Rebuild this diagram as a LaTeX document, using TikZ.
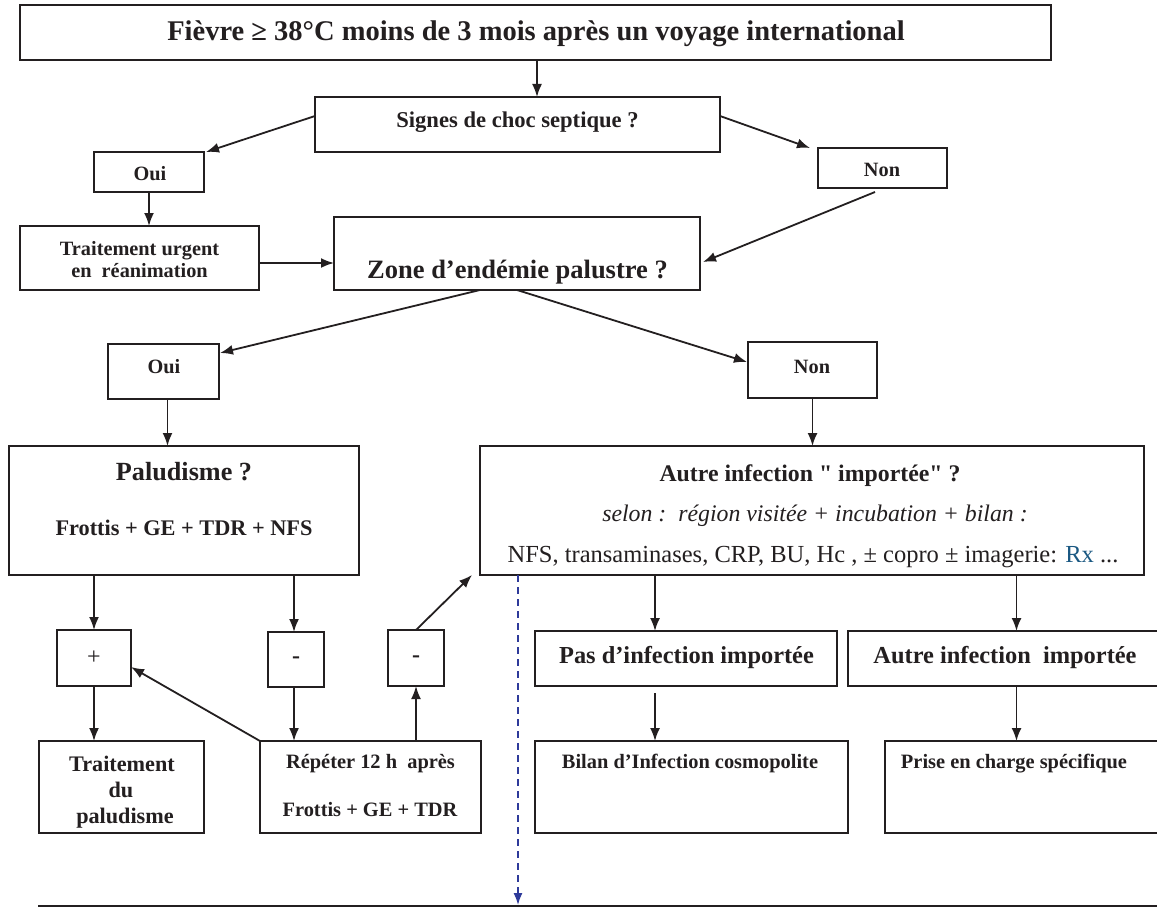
\documentclass[tikz,border=0pt]{standalone}
\usepackage{fontspec}
\setmainfont{Liberation Serif}
\newfontfamily\rawserif{Liberation Serif}
\usetikzlibrary{arrows.meta}
\definecolor{ink}{RGB}{35,31,32}
\definecolor{dashblue}{RGB}{46,58,154}
\definecolor{rxblue}{RGB}{26,88,130}
\newcommand\myfs[1]{\fontsize{#1}{#1}\selectfont}
\newcommand\bx[5]{\node[box,minimum width={(#4-#2)*1pt},minimum height={(#5-#3)*1pt}] (#1) at ({(#2+#4)/2},{(#3+#5)/2}) {};}
\begin{document}
\begin{tikzpicture}[x=1pt,y=-1pt,
  box/.style={draw=ink,line width=1.8pt,rectangle,inner sep=0pt,outer sep=0pt},
  arr/.style={draw=ink,line width=1.8pt,-{Latex[length=13pt,width=10pt]}},
  txt/.style={anchor=base,inner sep=0pt,text=ink},
  bf/.style={txt,font={\bfseries\myfs{#1}}},
  rm/.style={txt,font={\myfs{#1}}},
  it/.style={txt,font={\itshape\myfs{#1}}}]
\useasboundingbox[fill=white] (0,0) rectangle (1157,907);
% boxes
\bx{title}{20}{5}{1051}{60}
\bx{signes}{315}{97}{720}{152}
\bx{oui1}{94}{152}{204}{192}
\bx{non1}{818}{148}{947}{188}
\bx{trait}{20}{226}{259}{290}
\bx{zone}{334}{217}{700}{290}
\bx{oui2}{108}{344}{219}{399}
\bx{non2}{748}{342}{877}{398}
\bx{palu}{9}{446}{359}{575}
\bx{autre}{480}{446}{1144}{575}
\bx{plus}{57}{630}{131}{686}
\bx{minusa}{268}{632}{324}{687}
\bx{minusb}{388}{630}{444}{686}
\bx{traitpal}{39}{741}{204}{833}
\bx{repeter}{260}{741}{481}{833}
\bx{pas}{535}{631}{837}{686}
\bx{autreimp}{848}{631}{1175}{686}
\bx{bilan}{535}{741}{848}{833}
\bx{prise}{885}{741}{1175}{833}
% texts
\node[bf=28.5] (ttitle) at (536,41) {Fièvre ≥ 38°C moins de 3 mois après un voyage international};
\node[bf=22.6] (tsignes) at (517.5,127) {Signes de choc septique ?};
\node[bf=20.3] (toui1) at (150,180) {Oui};
\node[bf=20.3] (tnon1) at (882,176) {Non};
\node[bf=20.3] (ttrait1) at (139.5,255) {Traitement urgent};
\node[bf=20.3] (ttrait2) at (139.5,277) {en\ \ réanimation};
\node[bf=26.5] (tzone) at (517.5,278) {Zone d’endémie palustre ?};
\node[bf=20.3] (toui2) at (164,373) {Oui};
\node[bf=20.3] (tnon2) at (812,373) {Non};
\node[bf=26.2] (tpalu1) at (184,480) {Paludisme ?};
\node[bf=22.3] (tpalu2) at (184,535) {Frottis + GE + TDR + NFS};
\node[bf=23.8] (tautre1) at (810,481) {Autre infection {\rawserif\bfseries"} importée{\rawserif\bfseries"} ?};
\node[it=23.8] (tautre2) at (815,521) {selon :\ \ région visitée + incubation + bilan :};
\node[rm=24.5] (tautre3) at (813,562) {NFS, transaminases, CRP, BU, Hc , ± copro ± imagerie: \textcolor{rxblue}{Rx} ...};
\node[rm=24] (tplus) at (94,664) {+};
\node[bf=24] (tminusa) at (296,663) {-};
\node[bf=24] (tminusb) at (416,662) {-};
\node[bf=22.2] (ttp1) at (122,771) {Traitement};
\node[bf=22.2] (ttp2) at (121,797) {du};
\node[bf=22.2] (ttp3) at (125,823) {paludisme};
\node[bf=20.4] (trep1) at (370.5,768) {Répéter 12 h\ \ après};
\node[bf=20.4] (trep2) at (370,816) {Frottis + GE + TDR};
\node[bf=24.4] (tpas) at (686.5,663) {Pas d’infection importée};
\node[bf=24.4] (tautreimp) at (1005,663) {Autre infection\ \ importée};
\node[bf=20.4] (tbilan) at (690,768) {Bilan d’Infection cosmopolite};
\node[bf=20.4] (tprise) at (1014,768) {Prise en charge spécifique};
% helper coordinates
\coordinate (pasin) at ([xshift=-31pt]pas.north);
\coordinate (pasout) at ([xshift=-31pt,yshift=-7pt]pas.south);
\coordinate (aiin) at ([xshift=5pt]autreimp.north);
\coordinate (dashend) at (518,905);
\coordinate (hla) at (38,906);
\coordinate (hlb) at (1165,906);
\coordinate (nonout) at ([xshift=-7.5pt,yshift=-4pt]non1.south);
% connectors
\draw[arr] ([xshift=1.5pt]title.south) -- ([xshift=1.5pt]title.south |- signes.north);
\draw[arr] ([yshift=8.5pt]signes.west) -- ([xshift=2pt]oui1.north east);
\draw[arr] ([yshift=8.5pt]signes.east) -- ([xshift=-8pt]non1.north west);
\draw[arr] (oui1.south) -- (oui1.south |- trait.north);
\draw[arr] ([yshift=-5pt]trait.east) -- ([yshift=-5pt]trait.east -| zone.west);
\draw[arr] (nonout) -- ([xshift=3pt,yshift=-8.5pt]zone.east);
\draw[arr] ([xshift=-37pt]zone.south) -- ([xshift=1pt,yshift=-9pt]oui2.north east);
\draw[arr] (zone.south) -- ([xshift=-1pt,yshift=-20pt]non2.north west);
\draw[arr] ([xshift=4pt]oui2.south) -- ([xshift=4pt]oui2.south |- palu.north);
\draw[arr] (non2.south) -- (non2.south |- autre.north);
\draw[arr] (plus.north |- palu.south) -- (plus.north);
\draw[arr] ([xshift=-2pt]minusa.north |- palu.south) -- ([xshift=-2pt]minusa.north);
\draw[arr] (plus.south) -- (plus.south |- traitpal.north);
\draw[arr] ([xshift=-2pt]minusa.south) -- ([xshift=-2pt]minusa.south |- repeter.north);
\draw[arr] (minusb.south |- repeter.north) -- (minusb.south);
\draw[arr] (repeter.north west) -- ([yshift=-9pt]plus.east);
\draw[arr] (minusb.north) -- ([xshift=-8pt]autre.south west);
\draw[arr] (pasin |- autre.south) -- (pasin);
\draw[arr] (aiin |- autre.south) -- (aiin);
\draw[arr] (pasout) -- (pasout |- bilan.north);
\draw[arr] (aiin |- autreimp.south) -- (aiin |- prise.north);
\draw[draw=dashblue,line width=1.6pt,dash pattern=on 7pt off 5pt,-{Latex[length=12pt,width=9pt,fill=dashblue]}] (dashend |- autre.south) -- (dashend);
\draw[draw=ink,line width=1.6pt] (hla) -- (hlb);
\end{tikzpicture}
\end{document}
